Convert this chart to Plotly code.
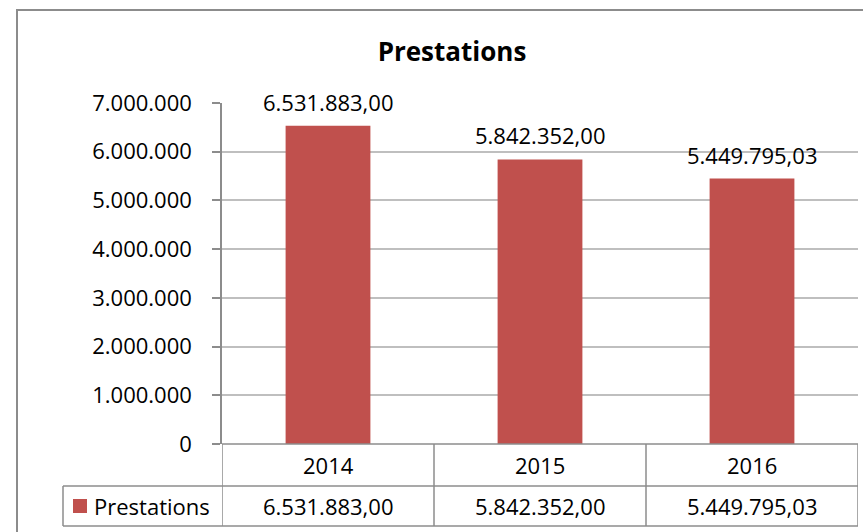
import plotly.graph_objects as go

years = ['2014', '2015', '2016']
prestations = [6531883.00, 5842352.00, 5449795.03]
series_name = 'Prestations'
y_ticks = [0, 1000000, 2000000, 3000000, 4000000, 5000000, 6000000, 7000000]

BAR_COLOR = '#C0504D'
LINE_GREY = '#8C8C8C'
GRID_GREY = '#BFBFBF'
FONT = 'Open Sans'
FS = 22

# plot area in pixels (figure is 863 x 532)
FW, FH = 863, 532
L, R, T, B = 222, 858, 103, 444
W, H = R - L, B - T


def px_x(p):
    return (p - L) / W


def px_y(p):
    return (B - p) / H


def fmt(v):
    s = f'{v:,.2f}'
    return s.replace(',', 'X').replace('.', ',').replace('X', '.')


fig = go.Figure()
fig.add_trace(go.Bar(x=years, y=prestations, name=series_name,
                     marker=dict(color=BAR_COLOR, line=dict(width=0)),
                     hoverinfo='skip'))

shapes = []
annotations = []
txt = dict(size=FS, color='black', family=FONT)

# outer chart frame
shapes.append(dict(type='rect', xref='paper', yref='paper',
                   x0=px_x(17), x1=px_x(FW + 20), y0=px_y(FH + 20), y1=px_y(10),
                   line=dict(color=LINE_GREY, width=2)))

# data table grid
row1, row2 = px_y(486), px_y(526)
shapes.append(dict(type='line', xref='paper', yref='paper', x0=0, x1=1, y0=0, y1=0,
                   line=dict(color=LINE_GREY, width=1.5)))
for yy in (row1, row2):
    shapes.append(dict(type='line', xref='paper', yref='paper', x0=px_x(63), x1=1,
                       y0=yy, y1=yy, line=dict(color=LINE_GREY, width=1.5)))
shapes.append(dict(type='line', xref='paper', yref='paper', x0=px_x(63), x1=px_x(63),
                   y0=row1, y1=row2, line=dict(color=LINE_GREY, width=1.5)))
for k in range(len(years) + 1):
    shapes.append(dict(type='line', xref='x', yref='paper', x0=k - 0.5, x1=k - 0.5,
                       y0=0, y1=row2, line=dict(color=LINE_GREY, width=1.5)))

# legend key in table
shapes.append(dict(type='rect', xref='paper', yref='paper',
                   x0=px_x(73), x1=px_x(87), y0=px_y(513), y1=px_y(499),
                   fillcolor=BAR_COLOR, line=dict(width=0)))
annotations.append(dict(text=series_name, xref='paper', yref='paper',
                        x=px_x(92), y=(row1 + row2) / 2, xanchor='left', yanchor='middle',
                        showarrow=False, font=txt))

for k, (yr, v) in enumerate(zip(years, prestations)):
    # table cells
    annotations.append(dict(text=yr, xref='x', yref='paper', x=k, y=row1 / 2,
                            xanchor='center', yanchor='middle', showarrow=False, font=txt))
    annotations.append(dict(text=fmt(v), xref='x', yref='paper', x=k, y=(row1 + row2) / 2,
                            xanchor='center', yanchor='middle', showarrow=False, font=txt))
    # data labels
    annotations.append(dict(text=fmt(v), xref='x', yref='y', x=k, y=v,
                            xanchor='center', yanchor='middle', yshift=24,
                            showarrow=False, font=txt))

fig.update_layout(
    width=FW, height=FH,
    margin=dict(l=L, r=FW - R, t=T, b=FH - B, pad=0),
    paper_bgcolor='white', plot_bgcolor='white',
    separators=',.',
    font=dict(family=FONT, size=FS, color='black'),
    title=dict(text='<b>Prestations</b>', x=452 / FW, xanchor='center',
               y=1 - 52 / FH, yanchor='middle', xref='container', yref='container',
               font=dict(size=26, color='black', family=FONT)),
    showlegend=False,
    bargap=0.6,
    shapes=shapes,
    annotations=annotations,
)
fig.update_xaxes(type='category', showticklabels=False, ticks='', showgrid=False,
                 showline=False, zeroline=False, range=[-0.5, 2.5])
fig.update_yaxes(range=[0, 7000000], tickvals=y_ticks, tickformat=',d',
                 showgrid=True, gridcolor=GRID_GREY, gridwidth=1.5,
                 showline=True, linecolor=LINE_GREY, linewidth=1.5,
                 ticks='outside', ticklen=8, tickcolor=LINE_GREY, tickwidth=1.5,
                 ticklabelstandoff=16, zeroline=False, tickfont=txt)

fig.write_html("out.html", config={'displayModeBar': False},
               post_script="document.body.style.margin='0';")
